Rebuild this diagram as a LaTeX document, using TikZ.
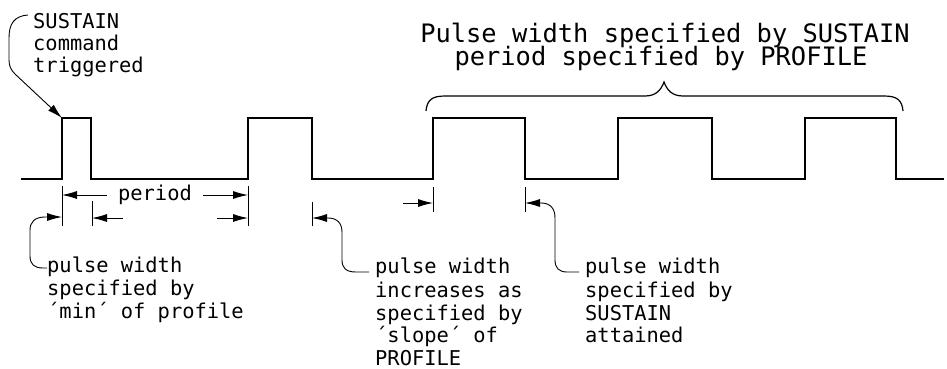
\documentclass[tikz,border=0pt]{standalone}
\usepackage{fontspec}
\newfontfamily\plotfont{DejaVu Sans Mono}
\usetikzlibrary{arrows.meta}
\begin{document}
\begin{tikzpicture}[x=1pt,y=-1pt,
  wave/.style={line width=2.4pt, line join=miter, line cap=rect},
  tick/.style={line width=0.9pt},
  lead/.style={line width=0.9pt},
  arr/.style={lead, -{Latex[length=15pt,width=8pt]}},
  bracestyle/.style={line width=1.2pt},
  lbl/.style={inner sep=0pt, anchor=base west, font=\plotfont\fontsize{20.4}{23}\selectfont},
  big/.style={inner sep=0pt, anchor=base, font=\plotfont\fontsize{25.4}{28}\selectfont}]
\useasboundingbox (0,0) rectangle (947,368);
\fill[white] (0,0) rectangle (947,368);

% waveform
\coordinate (w0) at (22,179);
\coordinate (p1r) at (62,118);
\coordinate (p1f) at (91,118);
\coordinate (p2r) at (248,118);
\coordinate (p2f) at (312,118);
\coordinate (p3r) at (433,118);
\coordinate (p3f) at (525,118);
\coordinate (p4r) at (618,118);
\coordinate (p4f) at (712,118);
\coordinate (p5r) at (805,118);
\coordinate (p5f) at (896,118);
\coordinate (wend) at (943,179);
\draw[wave] (w0) -- (62,179) -- (p1r) -- (p1f) -- (91,179) -- (248,179) -- (p2r) -- (p2f)
  -- (312,179) -- (433,179) -- (p3r) -- (p3f) -- (525,179) -- (618,179) -- (p4r) -- (p4f)
  -- (712,179) -- (805,179) -- (p5r) -- (p5f) -- (896,179) -- (wend);

% ticks
\coordinate (k1a) at (62,186);  \coordinate (k1b) at (62,226);
\coordinate (k2a) at (92,201);  \coordinate (k2b) at (92,226);
\coordinate (k3a) at (248,186); \coordinate (k3b) at (248,226);
\coordinate (k4a) at (312,202); \coordinate (k4b) at (312,226);
\coordinate (k5a) at (433,187); \coordinate (k5b) at (433,212);
\coordinate (k6a) at (525,187); \coordinate (k6b) at (525,212);
\foreach \i in {1,...,6} { \draw[tick] (k\i a) -- (k\i b); }

% period dimension
\node[lbl, anchor=base, inner xsep=11pt] (per) at (155,200) {period};
\draw[arr] (per.west |- 0,195) -- (62,195);
\draw[arr] (per.east |- 0,195) -- (248,195);

% second row arrows
\coordinate (r2a) at (123,218);
\coordinate (r2b) at (217,218);
\draw[arr] (r2a) -- (92,218);
\draw[arr] (r2b) -- (248,218);
\coordinate (r3a) at (403,203);
\draw[arr] (r3a) -- (433,203);

% top-left label
\node[lbl] (s1) at (33,28) {SUSTAIN};
\node[lbl] (s2) at (33,50) {command};
\node[lbl] (s3) at (33,72) {triggered};
\draw[arr] (28,15) .. controls (14,16) and (9,24) .. (9,38) -- (9,60)
  .. controls (9,66) and (11,70) .. (15,74) -- (p1r);

% bottom labels
\node[lbl] (a1) at (47,272) {pulse width};
\node[lbl] (a2) at (47,295) {specified by};
\node[lbl] (a3) at (47,318) {´min´ of profile};
\draw[arr] (a1.west |- 0,268) -- (43,268) .. controls (34,268) and (30,264) .. (30,256)
  -- (30,230) .. controls (30,222) and (35,217) .. (45,217) -- (62,217);

\node[lbl] (b1) at (375,273) {pulse width};
\node[lbl] (b2) at (375,297) {increases as};
\node[lbl] (b3) at (375,320) {specified by};
\node[lbl] (b4) at (375,342) {´slope´ of};
\node[lbl] (b5) at (375,365) {PROFILE};
\draw[arr] (369,272) -- (356,272) .. controls (346,272) and (342,268) .. (342,260)
  -- (342,232) .. controls (342,223) and (337,218) .. (328,218) -- (312,218);

\node[lbl] (c1) at (585,273) {pulse width};
\node[lbl] (c2) at (585,297) {specified by};
\node[lbl] (c3) at (585,320) {SUSTAIN};
\node[lbl] (c4) at (585,342) {attained};
\draw[arr] (579,272) -- (567,272) .. controls (559,272) and (555,268) .. (555,260)
  -- (555,218) .. controls (555,208) and (550,203) .. (541,203) -- (525,203);

% top labels and brace
\node[big] (t1) at (665,42) {Pulse width specified by SUSTAIN};
\node[big] (t2) at (661,65) {period specified by PROFILE};
\draw[bracestyle] (426,111) .. controls (427,100) and (432,96) .. (445,96) -- (645,96)
  .. controls (656,96) and (661,90) .. (664,82)
  .. controls (667,90) and (672,96) .. (683,96) -- (884,96)
  .. controls (897,96) and (902,100) .. (903,111);
\end{tikzpicture}
\end{document}
